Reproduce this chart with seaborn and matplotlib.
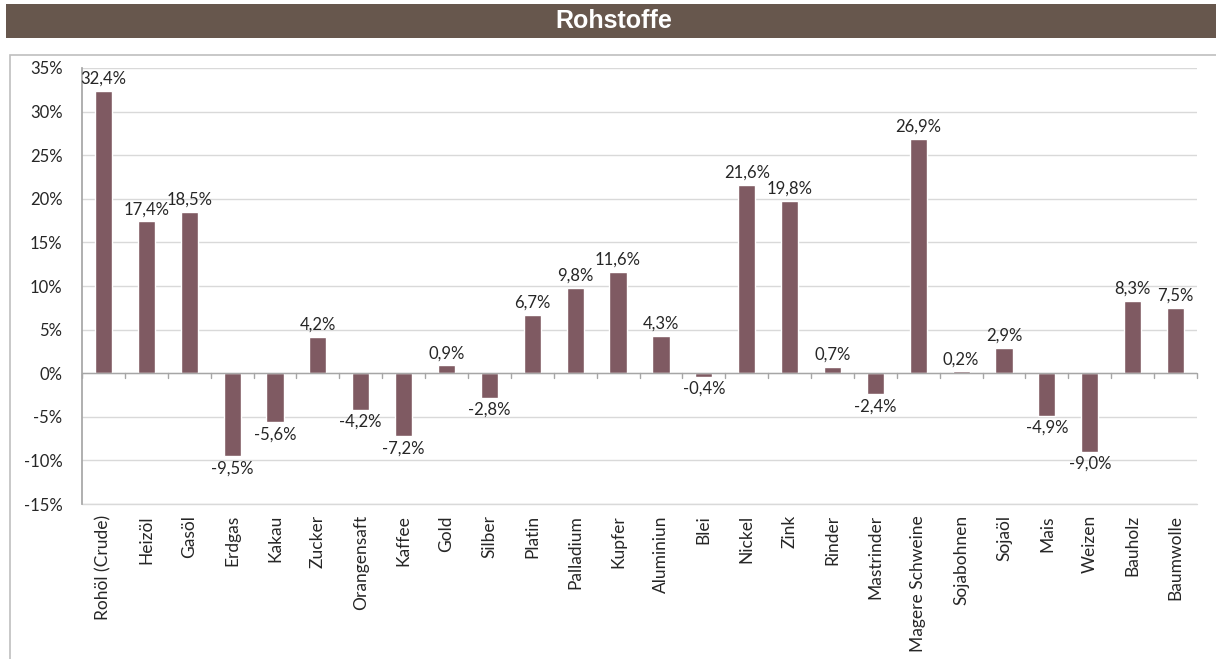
import matplotlib
matplotlib.use("Agg")
import matplotlib.pyplot as plt
import seaborn as sns
import pandas as pd
from matplotlib.patches import Rectangle

categories = ["Rohöl (Crude)", "Heizöl", "Gasöl", "Erdgas", "Kakau", "Zucker",
              "Orangensaft", "Kaffee", "Gold", "Silber", "Platin", "Palladium",
              "Kupfer", "Aluminiun", "Blei", "Nickel", "Zink", "Rinder",
              "Mastrinder", "Magere Schweine", "Sojabohnen", "Sojaöl", "Mais",
              "Weizen", "Bauholz", "Baumwolle"]
values = [32.4, 17.4, 18.5, -9.5, -5.6, 4.2, -4.2, -7.2, 0.9, -2.8, 6.7, 9.8,
          11.6, 4.3, -0.4, 21.6, 19.8, 0.7, -2.4, 26.9, 0.2, 2.9, -4.9, -9.0,
          8.3, 7.5]
yticks = [-15, -10, -5, 0, 5, 10, 15, 20, 25, 30, 35]
title = "Rohstoffe"

sns.set_theme(style="white")
plt.rcParams['font.family'] = ['Lato', 'DejaVu Sans']

df = pd.DataFrame({"cat": categories, "val": values})

fig = plt.figure(figsize=(12.16, 6.59), dpi=100)
W, H = 1216, 659

# title bar
fig.patches.append(Rectangle((6 / W, 1 - 38 / H), (1216 - 6) / W, 34 / H,
                             transform=fig.transFigure, facecolor="#67574D",
                             edgecolor="none", zorder=0))
fig.text(614 / W, 1 - 21 / H, title, color="white", fontsize=18,
         fontweight="bold", ha="center", va="center",
         family=["Liberation Sans", "DejaVu Sans"])
# chart border
fig.patches.append(Rectangle((10 / W, -0.05), 1.2, 1 - 55 / H + 0.05,
                             transform=fig.transFigure, facecolor="none",
                             edgecolor="#BFBFBF", linewidth=1.2, zorder=0))

ax = fig.add_axes([82 / W, 1 - 504 / H, (1197 - 82) / W, (504 - 68) / H])
sns.barplot(data=df, x="cat", y="val", color="#7F5A62", width=0.4,
            saturation=1, ax=ax, zorder=3)
ax.set_ylim(-15, 35)
ax.set_xlim(-0.5, len(categories) - 0.5)
ax.set_yticks(yticks)
ax.set_yticklabels([f"{t}%" for t in yticks], fontsize=12)
ax.yaxis.grid(True, color="#D9D9D9", linewidth=1, zorder=0)
ax.axhline(-15, color="#D9D9D9", linewidth=1, zorder=0, clip_on=False)
ax.set_xlabel("")
ax.set_ylabel("")
ax.tick_params(axis="x", labelrotation=90, labelsize=12.5, length=0, pad=8)
ax.tick_params(axis="y", length=0, pad=14)
for s in ["top", "right", "bottom"]:
    ax.spines[s].set_visible(False)
ax.spines["left"].set_color("#A6A6A6")
ax.axhline(0, color="#A6A6A6", linewidth=1, zorder=4)
# category separator ticks at zero line
for i in range(len(categories) + 1):
    ax.plot([i - 0.5, i - 0.5], [0, -0.6], color="#A6A6A6", linewidth=1,
            zorder=4, clip_on=False)

for i, v in enumerate(values):
    lab = f"{v:.1f}%".replace(".", ",")
    if v >= 0:
        ax.annotate(lab, (i, v), xytext=(0, 3), textcoords="offset points",
                    ha="center", va="bottom", fontsize=12)
    else:
        ax.annotate(lab, (i, v), xytext=(0, -3), textcoords="offset points",
                    ha="center", va="top", fontsize=12)

fig.savefig("out.png", dpi=100)
